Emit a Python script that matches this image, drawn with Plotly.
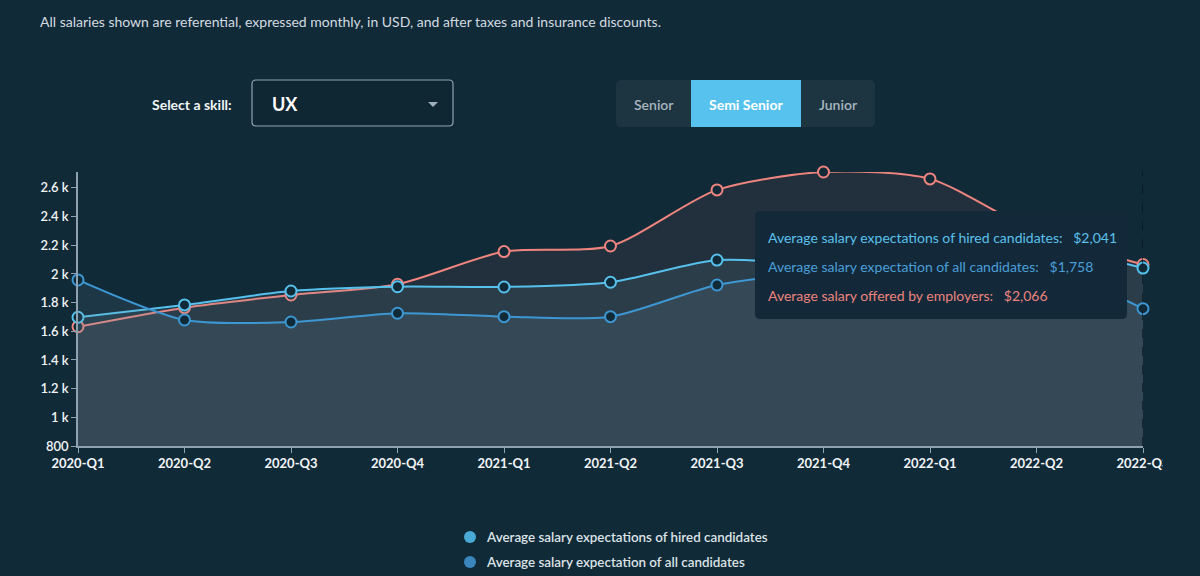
import plotly.graph_objects as go

# ---------------- data ----------------
quarters = ["2020-Q1", "2020-Q2", "2020-Q3", "2020-Q4", "2021-Q1", "2021-Q2",
            "2021-Q3", "2021-Q4", "2022-Q1", "2022-Q2", "2022-Q3"]
hired = [1698, 1784, 1881, 1911, 1909, 1942, 2097, 2070, 2090, 2190, 2041]
all_cand = [1958, 1679, 1665, 1726, 1702, 1702, 1923, 2010, 2040, 2060, 1758]
employers = [1632, 1765, 1853, 1928, 2156, 2195, 2586, 2711, 2663, 2290, 2066]

series_names = ["Average salary expectations of hired candidates",
                "Average salary expectation of all candidates",
                "Average salary offered by employers"]

y_tick_vals = [800, 1000, 1200, 1400, 1600, 1800, 2000, 2200, 2400, 2600]
y_tick_text = ["800", "1 k", "1.2 k", "1.4 k", "1.6 k", "1.8 k", "2 k", "2.2 k", "2.4 k", "2.6 k"]

skill = "UX"
levels = ["Senior", "Semi Senior", "Junior"]
selected_level = "Semi Senior"
note = "All salaries shown are referential, expressed monthly, in USD, and after taxes and insurance discounts."

# ---------------- style ----------------
BG = "#112a38"
C_HIRED = "#56c1ec"
C_ALL = "#3d97d3"
C_EMP = "#f0857f"
FONT = "Lato"

W, H = 1200, 576
L, R, T, B = 78, 1143, 172, 446


def px(x):
    return (x - L) / (R - L)


def py(y):
    return (B - y) / (B - T)


def rrect(x0, y0, x1, y1, r):
    # rounded rectangle path in paper coordinates, input in pixels
    pts = [
        f"M {px(x0 + r)} {py(y0)}",
        f"L {px(x1 - r)} {py(y0)}",
        f"Q {px(x1)} {py(y0)} {px(x1)} {py(y0 + r)}",
        f"L {px(x1)} {py(y1 - r)}",
        f"Q {px(x1)} {py(y1)} {px(x1 - r)} {py(y1)}",
        f"L {px(x0 + r)} {py(y1)}",
        f"Q {px(x0)} {py(y1)} {px(x0)} {py(y1 - r)}",
        f"L {px(x0)} {py(y0 + r)}",
        f"Q {px(x0)} {py(y0)} {px(x0 + r)} {py(y0)}",
        "Z",
    ]
    return " ".join(pts)


fig = go.Figure()

fills = {C_EMP: "rgba(240,128,128,0.08)",
         C_HIRED: "rgba(120,150,170,0.125)",
         C_ALL: "rgba(120,150,170,0.125)"}

for name, vals, col in [(series_names[2], employers, C_EMP),
                        (series_names[0], hired, C_HIRED),
                        (series_names[1], all_cand, C_ALL)]:
    fig.add_trace(go.Scatter(
        x=quarters, y=vals, name=name, mode="lines+markers",
        line=dict(color=col, width=2, shape="spline", smoothing=0.75),
        marker=dict(size=11, color=BG, line=dict(color=col, width=2)),
        fill="tozeroy", fillcolor=fills[col], cliponaxis=False,
        showlegend=False,
    ))

shapes = []
annotations = []

# hover spike line
shapes.append(dict(type="line", xref="x", yref="paper", x0=quarters[-1], x1=quarters[-1],
                   y0=0, y1=1, line=dict(color="#06131b", width=1.2, dash="dash"), layer="above"))

# tooltip box
tx0, ty0, tx1, ty1 = 755, 211, 1127, 319
shapes.append(dict(type="path", xref="paper", yref="paper", path=rrect(tx0, ty0, tx1, ty1, 5),
                   fillcolor="#13293a", line=dict(width=0), layer="above"))
tip_rows = [(series_names[0], hired[-1], "#5bc0eb", 237),
            (series_names[1], all_cand[-1], "#4a9fd8", 266),
            (series_names[2], employers[-1], "#ec837d", 295)]
for name, v, col, yy in tip_rows:
    annotations.append(dict(xref="paper", yref="paper", x=px(766), y=py(yy), xanchor="left",
                            yanchor="middle", showarrow=False,
                            text=f"{name}:\u00a0\u00a0\u00a0${v:,}",
                            font=dict(family=FONT, size=14, color=col)))

# clip of the last tick label at the container edge
shapes.append(dict(type="rect", xref="paper", yref="paper", x0=px(1163), x1=px(1205),
                   y0=py(480), y1=py(452), fillcolor=BG, line=dict(width=0), layer="above"))

# header note
annotations.append(dict(xref="paper", yref="paper", x=px(38), y=py(22), xanchor="left",
                        yanchor="middle", showarrow=False, text=note,
                        font=dict(family=FONT, size=14, color="#d3dbe0")))

# skill selector
annotations.append(dict(xref="paper", yref="paper", x=px(234), y=py(104), xanchor="right",
                        yanchor="middle", showarrow=False, text="<b>Select a skill:</b>",
                        font=dict(family=FONT, size=14, color="#f2f5f7")))
shapes.append(dict(type="path", xref="paper", yref="paper", path=rrect(252, 80, 453, 126, 4),
                   fillcolor="#0f2733", line=dict(color="#8ea3af", width=1.2)))
annotations.append(dict(xref="paper", yref="paper", x=px(270), y=py(104), xanchor="left",
                        yanchor="middle", showarrow=False, text=f"<b>{skill}</b>",
                        font=dict(family=FONT, size=18, color="#ffffff")))
shapes.append(dict(type="path", xref="paper", yref="paper",
                   path=f"M {px(428)} {py(102)} L {px(438)} {py(102)} L {px(433)} {py(107)} Z",
                   fillcolor="#9fb0ba", line=dict(width=0)))

# level buttons
shapes.append(dict(type="path", xref="paper", yref="paper", path=rrect(616, 80, 875, 127, 5),
                   fillcolor="#1d3441", line=dict(width=0)))
shapes.append(dict(type="rect", xref="paper", yref="paper", x0=px(691), x1=px(801),
                   y0=py(127), y1=py(80), fillcolor="#58c2ee", line=dict(width=0)))
btn_centers = [654, 746, 838]
for lvl, cx in zip(levels, btn_centers):
    sel = lvl == selected_level
    annotations.append(dict(xref="paper", yref="paper", x=px(cx), y=py(104), xanchor="center",
                            yanchor="middle", showarrow=False,
                            text=f"<b>{lvl}</b>" if sel else lvl,
                            font=dict(family=FONT, size=14,
                                      color="#ffffff" if sel else "#a9b7bf",
                                      weight=700 if sel else 600)))

# legend (bottom, manual)
legend_rows = [(series_names[0], "#4aaad6", 537), (series_names[1], "#3a86bf", 562)]
for name, col, yy in legend_rows:
    shapes.append(dict(type="circle", xref="paper", yref="paper",
                       x0=px(464), x1=px(476), y0=py(yy + 6), y1=py(yy - 6),
                       fillcolor=col, line=dict(width=0)))
    annotations.append(dict(xref="paper", yref="paper", x=px(484), y=py(yy), xanchor="left",
                            yanchor="middle", showarrow=False, text=name,
                            font=dict(family=FONT, size=13.4, color="#dce3e7", weight=600)))

fig.update_layout(
    width=W, height=H,
    paper_bgcolor=BG, plot_bgcolor=BG,
    margin=dict(l=L, r=W - R, t=T, b=H - B),
    font=dict(family=FONT, color="#eef2f5"),
    shapes=shapes, annotations=annotations,
    showlegend=False,
    hovermode=False,
)
fig.update_xaxes(type="category", range=[0, len(quarters) - 1], showgrid=False, zeroline=False,
                 showline=True, linecolor="#8ea3af", linewidth=1.5,
                 ticks="outside", ticklen=5, tickcolor="#8ea3af",
                 tickfont=dict(family=FONT, size=13, color="#f2f5f7", weight=700))
fig.update_yaxes(range=[800, 2711], showgrid=False, zeroline=False,
                 showline=True, linecolor="#8ea3af", linewidth=1.5,
                 ticks="outside", ticklen=5, tickcolor="#8ea3af",
                 tickvals=y_tick_vals, ticktext=y_tick_text,
                 tickfont=dict(family=FONT, size=13, color="#f2f5f7", weight=600))

fig.write_html("out.html",
               config={"displayModeBar": False},
               post_script="document.body.style.margin='0';document.body.style.overflow='hidden';document.body.style.background='" + BG + "';")
